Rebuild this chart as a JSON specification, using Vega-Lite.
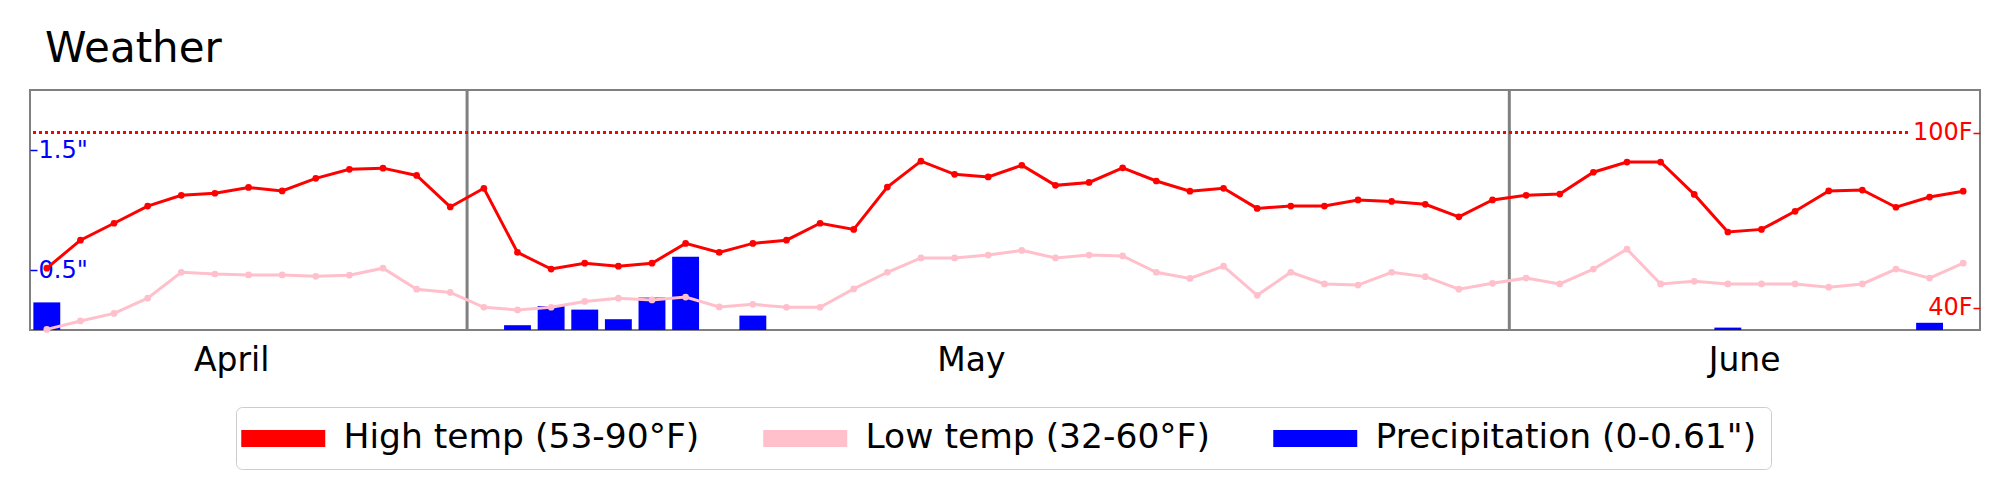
{
  "$schema": "https://vega.github.io/schema/vega-lite/v6.json",
  "width": 1950,
  "height": 240,
  "autosize": {"type": "none"},
  "padding": {"left": 30, "top": 90, "right": 30, "bottom": 169},
  "title": {"text": "Weather", "anchor": "start", "frame": "group", "fontSize": 42, "fontWeight": "normal", "font": "DejaVu Sans", "color": "black", "dx": 15, "dy": 34, "offset": 19, "baseline": "alphabetic"},
  "config": {"font": "DejaVu Sans", "view": {"stroke": "#808080", "strokeWidth": 2}},
  "data": {"values": [
    {"date": "2023-04-18", "high": 53.5, "low": 32.5, "precip": 0.23},
    {"date": "2023-04-19", "high": 63.1, "low": 35.4, "precip": 0},
    {"date": "2023-04-20", "high": 68.9, "low": 38.0, "precip": 0},
    {"date": "2023-04-21", "high": 74.8, "low": 43.2, "precip": 0},
    {"date": "2023-04-22", "high": 78.5, "low": 52.1, "precip": 0},
    {"date": "2023-04-23", "high": 79.2, "low": 51.5, "precip": 0},
    {"date": "2023-04-24", "high": 81.2, "low": 51.2, "precip": 0},
    {"date": "2023-04-25", "high": 80.0, "low": 51.2, "precip": 0},
    {"date": "2023-04-26", "high": 84.3, "low": 50.7, "precip": 0},
    {"date": "2023-04-27", "high": 87.4, "low": 51.1, "precip": 0},
    {"date": "2023-04-28", "high": 87.8, "low": 53.5, "precip": 0},
    {"date": "2023-04-29", "high": 85.3, "low": 46.3, "precip": 0},
    {"date": "2023-04-30", "high": 74.5, "low": 45.2, "precip": 0},
    {"date": "2023-05-01", "high": 80.9, "low": 40.1, "precip": 0},
    {"date": "2023-05-02", "high": 58.9, "low": 39.2, "precip": 0.04},
    {"date": "2023-05-03", "high": 53.2, "low": 40.1, "precip": 0.20},
    {"date": "2023-05-04", "high": 55.2, "low": 42.1, "precip": 0.17},
    {"date": "2023-05-05", "high": 54.2, "low": 43.2, "precip": 0.09},
    {"date": "2023-05-06", "high": 55.2, "low": 42.6, "precip": 0.27},
    {"date": "2023-05-07", "high": 62.0, "low": 43.6, "precip": 0.61},
    {"date": "2023-05-08", "high": 58.9, "low": 40.2, "precip": 0},
    {"date": "2023-05-09", "high": 62.0, "low": 41.1, "precip": 0.12},
    {"date": "2023-05-10", "high": 63.1, "low": 40.1, "precip": 0},
    {"date": "2023-05-11", "high": 68.9, "low": 40.1, "precip": 0},
    {"date": "2023-05-12", "high": 66.8, "low": 46.4, "precip": 0},
    {"date": "2023-05-13", "high": 81.3, "low": 52.1, "precip": 0},
    {"date": "2023-05-14", "high": 90.2, "low": 57.0, "precip": 0},
    {"date": "2023-05-15", "high": 85.7, "low": 57.0, "precip": 0},
    {"date": "2023-05-16", "high": 84.8, "low": 58.0, "precip": 0},
    {"date": "2023-05-17", "high": 88.8, "low": 59.6, "precip": 0},
    {"date": "2023-05-18", "high": 81.9, "low": 57.0, "precip": 0},
    {"date": "2023-05-19", "high": 82.9, "low": 58.0, "precip": 0},
    {"date": "2023-05-20", "high": 87.9, "low": 57.7, "precip": 0},
    {"date": "2023-05-21", "high": 83.4, "low": 52.1, "precip": 0},
    {"date": "2023-05-22", "high": 79.9, "low": 50.0, "precip": 0},
    {"date": "2023-05-23", "high": 80.9, "low": 54.2, "precip": 0},
    {"date": "2023-05-24", "high": 74.0, "low": 44.2, "precip": 0},
    {"date": "2023-05-25", "high": 74.8, "low": 52.1, "precip": 0},
    {"date": "2023-05-26", "high": 74.8, "low": 48.1, "precip": 0},
    {"date": "2023-05-27", "high": 76.9, "low": 47.7, "precip": 0},
    {"date": "2023-05-28", "high": 76.4, "low": 52.1, "precip": 0},
    {"date": "2023-05-29", "high": 75.4, "low": 50.6, "precip": 0},
    {"date": "2023-05-30", "high": 71.1, "low": 46.3, "precip": 0},
    {"date": "2023-05-31", "high": 76.9, "low": 48.3, "precip": 0},
    {"date": "2023-06-01", "high": 78.5, "low": 50.1, "precip": 0},
    {"date": "2023-06-02", "high": 78.9, "low": 48.1, "precip": 0},
    {"date": "2023-06-03", "high": 86.4, "low": 53.2, "precip": 0},
    {"date": "2023-06-04", "high": 89.9, "low": 60.0, "precip": 0},
    {"date": "2023-06-05", "high": 89.9, "low": 48.1, "precip": 0},
    {"date": "2023-06-06", "high": 78.8, "low": 49.0, "precip": 0},
    {"date": "2023-06-07", "high": 65.9, "low": 48.1, "precip": 0.02},
    {"date": "2023-06-08", "high": 66.8, "low": 48.1, "precip": 0},
    {"date": "2023-06-09", "high": 73.0, "low": 48.1, "precip": 0},
    {"date": "2023-06-10", "high": 80.0, "low": 47.0, "precip": 0},
    {"date": "2023-06-11", "high": 80.3, "low": 48.1, "precip": 0},
    {"date": "2023-06-12", "high": 74.4, "low": 53.2, "precip": 0},
    {"date": "2023-06-13", "high": 77.9, "low": 50.1, "precip": 0.06},
    {"date": "2023-06-14", "high": 79.9, "low": 55.2, "precip": 0}
  ]},
  "layer": [
    {
      "transform": [{"filter": "slice(datum.date, 8) == '01'"}],
      "mark": {"type": "rule", "color": "#808080", "strokeWidth": 3, "xOffset": -3.36},
      "encoding": {
        "x": {"field": "date", "type": "ordinal", "bandPosition": 0,
          "scale": {"paddingInner": 0.2, "paddingOuter": 0.1},
          "axis": {"title": null, "values": ["2023-04-23", "2023-05-15", "2023-06-07"], "labelExpr": "utcFormat(toDate(datum.value), '%B')", "labelAngle": 0, "labelFontSize": 33, "labelColor": "black", "labelFont": "DejaVu Sans", "labelBaseline": "alphabetic", "labelPadding": 40, "labelOffset": 16.81, "ticks": false, "domain": false, "grid": false}}
      }
    },
    {
      "mark": {"type": "bar"},
      "encoding": {
        "x": {"field": "date", "type": "ordinal",
          "scale": {"paddingInner": 0.2, "paddingOuter": 0.1},
          "axis": {"title": null, "values": ["2023-04-23", "2023-05-15", "2023-06-07"], "labelExpr": "utcFormat(toDate(datum.value), '%B')", "labelAngle": 0, "labelFontSize": 33, "labelColor": "black", "labelFont": "DejaVu Sans", "labelBaseline": "alphabetic", "labelPadding": 40, "labelOffset": 16.81, "ticks": false, "domain": false, "grid": false}},
        "y": {"field": "precip", "type": "quantitative", "scale": {"domain": [0, 2]},
          "axis": {"title": null, "orient": "left", "values": [0.5, 1.5], "labelExpr": "format(datum.value, '.1f') + '\"'", "labelColor": "blue", "tickColor": "blue", "tickSize": -7, "tickWidth": 1.5, "labelPadding": -1, "labelAlign": "left", "labelBaseline": "middle", "labelFontSize": 24, "labelFont": "DejaVu Sans", "domain": false, "grid": false}},
        "color": {"datum": "Precipitation (0-0.61\")", "type": "nominal",
          "scale": {"domain": ["High temp (53-90°F)", "Low temp (32-60°F)", "Precipitation (0-0.61\")"], "range": ["#ff0000", "#ffc0cb", "#0000ff"]},
          "legend": {"title": null, "orient": "none", "legendX": 206, "legendY": 317, "direction": "horizontal", "columns": 3,
            "symbolType": "M-2.47,-0.5H2.47V0.5H-2.47Z", "symbolSize": 1156, "symbolOffset": 16, "symbolStrokeWidth": 0,
            "labelOffset": 43, "labelFontSize": 34.5, "labelFont": "DejaVu Sans", "labelColor": "black", "labelLimit": 1000,
            "columnPadding": 63, "padding": 14, "strokeColor": "#cccccc", "cornerRadius": 6, "fillColor": "white"}}
      }
    },
    {
      "layer": [
        {
          "mark": {"type": "rule", "color": "red", "strokeWidth": 2, "strokeDash": [2, 4]},
          "encoding": {
            "x": {"datum": "2023-04-18", "type": "ordinal", "bandPosition": 0},
            "x2": {"datum": "2023-06-12", "bandPosition": 1},
            "y": {"datum": 100, "type": "quantitative", "scale": {"domain": [32.3, 114.6]},
              "axis": {"title": null, "orient": "right", "values": [40, 100], "labelExpr": "datum.value + 'F'", "labelColor": "red", "tickColor": "red", "tickSize": -7, "tickWidth": 1.5, "labelPadding": -1, "labelAlign": "right", "labelBaseline": "middle", "labelFontSize": 24, "labelFont": "DejaVu Sans", "domain": false, "grid": false}}
          }
        },
        {
          "mark": {"type": "line", "color": "#ffc0cb", "strokeWidth": 3, "point": {"filled": true, "size": 45, "color": "#ffc0cb"}},
          "encoding": {
            "x": {"field": "date", "type": "ordinal"},
            "y": {"field": "low", "type": "quantitative", "scale": {"domain": [32.3, 114.6]},
              "axis": {"title": null, "orient": "right", "values": [40, 100], "labelExpr": "datum.value + 'F'", "labelColor": "red", "tickColor": "red", "tickSize": -7, "tickWidth": 1.5, "labelPadding": -1, "labelAlign": "right", "labelBaseline": "middle", "labelFontSize": 24, "labelFont": "DejaVu Sans", "domain": false, "grid": false}}
          }
        },
        {
          "mark": {"type": "line", "color": "#ff0000", "strokeWidth": 3, "point": {"filled": true, "size": 45, "color": "#ff0000"}},
          "encoding": {
            "x": {"field": "date", "type": "ordinal"},
            "y": {"field": "high", "type": "quantitative", "scale": {"domain": [32.3, 114.6]},
              "axis": {"title": null, "orient": "right", "values": [40, 100], "labelExpr": "datum.value + 'F'", "labelColor": "red", "tickColor": "red", "tickSize": -7, "tickWidth": 1.5, "labelPadding": -1, "labelAlign": "right", "labelBaseline": "middle", "labelFontSize": 24, "labelFont": "DejaVu Sans", "domain": false, "grid": false}}
          }
        }
      ]
    }
  ],
  "resolve": {"scale": {"y": "independent"}, "axis": {"y": "independent"}}
}
